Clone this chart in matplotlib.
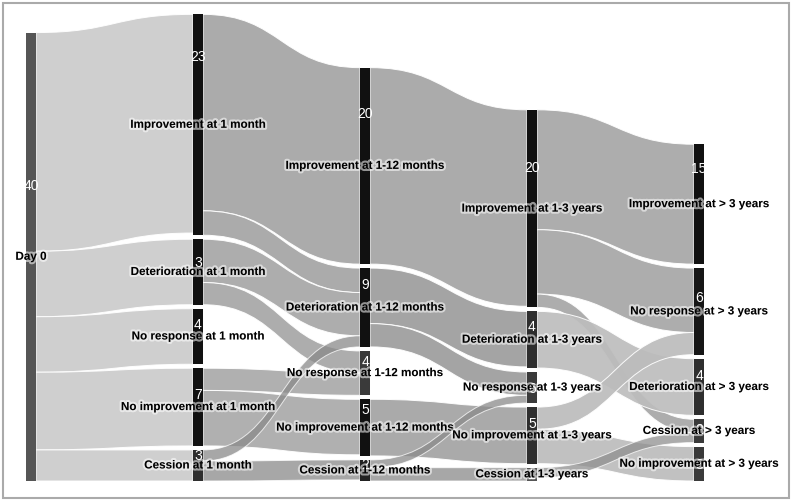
import numpy as np
import matplotlib.pyplot as plt
from matplotlib.path import Path
from matplotlib.patches import PathPatch, Rectangle
import matplotlib.patheffects as pe

# Nós do diagrama (coluna a coluna, de cima para baixo)
node_labels = [
    "Day 0",
    "Improvement at 1 month", "Deterioration at 1 month", "No response at 1 month",
    "No improvement at 1 month", "Cession at 1 month",
    "Improvement at 1-12 months", "Deterioration at 1-12 months", "No response at 1-12 months",
    "No improvement at 1-12 months", "Cession at 1-12 months",
    "Improvement at 1-3 years", "Deterioration at 1-3 years", "No response at 1-3 years",
    "No improvement at 1-3 years", "Cession at 1-3 years",
    "Improvement at > 3 years", "No response at > 3 years", "Deterioration at > 3 years",
    "Cession at > 3 years", "No improvement at > 3 years",
]
node_counts = ["40", "23", "3", "4", "7", "3", "20", "9", "4", "5", "2",
               "20", "4", "6", "5", "1", "15", "6", "4", "2", "3"]
node_column = [0, 1, 1, 1, 1, 1, 2, 2, 2, 2, 2, 3, 3, 3, 3, 3, 4, 4, 4, 4, 4]

# Fluxos (origem, destino, valor)
link_source = [0, 0, 0, 0, 0, 1, 1, 2, 2, 4, 4, 5, 5,
               6, 7, 7, 9, 10, 10, 11, 11, 11, 12, 14, 14, 15]
link_target = [1, 2, 3, 4, 5, 6, 7, 7, 8, 8, 9, 7, 10,
               11, 12, 13, 14, 13, 15, 16, 17, 19, 18, 17, 20, 19]
link_value = [19.7, 5.9, 5.0, 7.0, 2.8, 17.7, 2.2, 3.9, 2.0, 2.0, 5.0, 1.0, 1.8,
              17.7, 5.0, 2.1, 5.1, 0.7, 1.2, 10.8, 5.8, 1.2, 5.1, 2.0, 3.1, 0.9]

# Estilo
node_colors = ["#555555", "#111111", "#111111", "#111111", "#111111", "#2e2e2e",
               "#111111", "#111111", "#3a3a3a", "#111111", "#222222",
               "#111111", "#2e2e2e", "#3a3a3a", "#2e2e2e", "#555555",
               "#111111", "#161616", "#2e2e2e", "#3a3a3a", "#3a3a3a"]
num_frac = [0.34, 0.19, 0.34, 0.28, 0.33, 0.16, 0.23, 0.2, 0.23, 0.18, 0.2,
            0.29, 0.26, 0.5, 0.28, 0.5, 0.2, 0.33, 0.28, 0.4, 0.5]
source_color = {0: "#cbcbcb", 1: "#a4a4a4", 2: "#a6a6a6", 4: "#a9a9a9", 5: "#8a8a8a",
                6: "#a4a4a4", 7: "#9c9c9c", 9: "#a3a3a3", 10: "#8a8a8a",
                11: "#a6a6a6", 12: "#bdbdbd", 14: "#bcbcbc", 15: "#8f8f8f"}

px_per_unit = 11.1
gap = 0.36
node_w = 10
col_x = lambda c: 26 + 167 * c

n_nodes = len(node_labels)
inflow = np.zeros(n_nodes)
outflow = np.zeros(n_nodes)
for s, t, v in zip(link_source, link_target, link_value):
    outflow[s] += v
    inflow[t] += v
size = np.maximum(inflow, outflow)

# Empilhar os nós de baixo para cima em cada coluna
bottom = np.zeros(n_nodes)
for c in range(5):
    idx = [i for i in range(n_nodes) if node_column[i] == c]
    y = 0.0
    for i in reversed(idx):
        bottom[i] = y
        y += size[i] + gap
top = bottom + size

fig = plt.figure(figsize=(7.92, 5.02), dpi=100)
ax = fig.add_axes([0, 0, 1, 1])
ax.set_xlim(0, 792)
ax.set_ylim(-(502 - 482) / px_per_unit, 482 / px_per_unit)
ax.axis("off")

# Posições das ligações em cada nó
order = list(range(len(link_value)))
out_pos = {}
in_pos = {}
for n in range(n_nodes):
    outs = sorted([k for k in order if link_source[k] == n], key=lambda k: -top[link_target[k]])
    y = top[n]
    for k in outs:
        out_pos[k] = (y, y - link_value[k])
        y -= link_value[k]
    ins = sorted([k for k in order if link_target[k] == n], key=lambda k: -top[link_source[k]])
    y = top[n]
    for k in ins:
        in_pos[k] = (y, y - link_value[k])
        y -= link_value[k]

def band(x0, x1, a0, a1, b0, b1):
    xm = (x0 + x1) / 2
    verts = [(x0, a0), (xm, a0), (xm, b0), (x1, b0),
             (x1, b1), (xm, b1), (xm, a1), (x0, a1), (x0, a0)]
    codes = [Path.MOVETO, Path.CURVE4, Path.CURVE4, Path.CURVE4,
             Path.LINETO, Path.CURVE4, Path.CURVE4, Path.CURVE4, Path.CLOSEPOLY]
    return Path(verts, codes)

draw_order = sorted(order, key=lambda k: link_source[k] in (5, 10, 15))
for k in draw_order:
    s, t = link_source[k], link_target[k]
    x0 = col_x(node_column[s]) + node_w
    x1 = col_x(node_column[t])
    a0, a1 = out_pos[k]
    b0, b1 = in_pos[k]
    alpha = 0.75 if s in (5, 10, 15) else 0.92
    ax.add_patch(PathPatch(band(x0, x1, a0, a1, b0, b1), facecolor=source_color[s],
                           edgecolor="white", lw=0.7, alpha=alpha))

halo = [pe.withStroke(linewidth=3, foreground="white", alpha=0.55)]
for i in range(n_nodes):
    x = col_x(node_column[i])
    ax.add_patch(Rectangle((x, bottom[i]), node_w, size[i], facecolor=node_colors[i],
                           edgecolor="none"))
    ax.text(x + node_w / 2, top[i] - num_frac[i] * size[i], node_counts[i], color="white",
            ha="center", va="center", fontsize=10, family="Liberation Sans")
    ax.text(x + node_w / 2, (top[i] + bottom[i]) / 2, node_labels[i], color="black",
            ha="center", va="center", fontsize=8.4, fontweight="bold",
            family="Liberation Sans", path_effects=halo)

fig.patches.append(Rectangle((3 / 792, 3 / 502), 786 / 792, 495 / 502, transform=fig.transFigure,
                             fill=False, edgecolor="#aaaaaa", lw=1.5))

fig.savefig("out.png", dpi=100)
